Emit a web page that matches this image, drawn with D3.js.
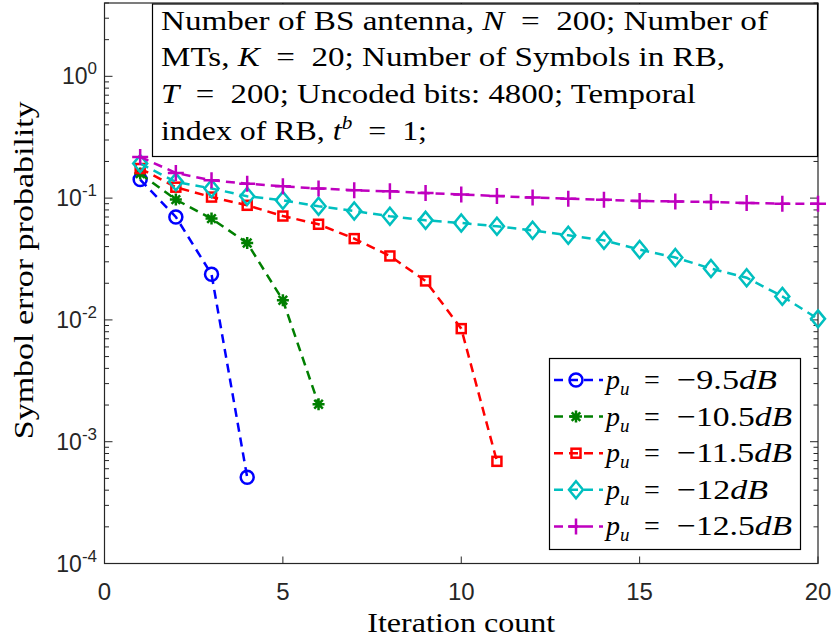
<!DOCTYPE html>
<html>
<head>
<meta charset="utf-8">
<script src="https://cdn.jsdelivr.net/npm/d3@7"></script>
<style>
  body { margin: 0; background: #fff; }
  svg { display: block; }
</style>
</head>
<body>
<div id="chart"></div>
<script>
(function() {

    // ---- data ----
    let iterations = d3.range(1, 21);

    let pu95 = [0.142, 0.070, 0.0237, 0.00051];
    let pu105 = [0.159, 0.0972, 0.0679, 0.0428, 0.0145, 0.00203];
    let pu115 = [0.175, 0.123, 0.102, 0.0873, 0.0713, 0.0610, 0.0465, 0.0335, 0.0209, 0.00848, 0.00069];
    let pu12 = [0.192, 0.136, 0.120, 0.1035, 0.0959, 0.0857, 0.0784, 0.0710, 0.0657, 0.0625,
                0.0587, 0.0544, 0.0495, 0.0450, 0.0378, 0.0325, 0.0264, 0.0222, 0.0156, 0.0102];
    let pu125 = [0.218, 0.161, 0.140, 0.1315, 0.125, 0.120, 0.116, 0.1137, 0.110, 0.107,
                 0.104, 0.101, 0.099, 0.097, 0.0947, 0.094, 0.0929, 0.0912, 0.0901, 0.090];

    let seriesLabels = ["\u22129.5", "\u221210.5", "\u221211.5", "\u221212", "\u221212.5"];
    let xTicks = [0, 5, 10, 15, 20];
    let yTickExps = [-4, -3, -2, -1, 0];

    let series = [
        { values: pu95,  label: seriesLabels[0], color: "#0000ff", marker: "circle" },
        { values: pu105, label: seriesLabels[1], color: "#007f00", marker: "star" },
        { values: pu115, label: seriesLabels[2], color: "#ff0000", marker: "square" },
        { values: pu12,  label: seriesLabels[3], color: "#00bfbf", marker: "diamond" },
        { values: pu125, label: seriesLabels[4], color: "#bf00bf", marker: "plus" }
    ];
    // width of the "−x.xdB" part of each legend entry, as measured on the picture
    let legendWidths = [100, 115, 115, 91, 115];

    let width = 832,
        height = 643;
    let plot = { left: 104.5, right: 818, top: 3, bottom: 563.5 };
    let axisColor = "#262626";
    let serif = "Liberation Serif, Times New Roman, serif";
    let sans = "Liberation Sans, Arial, sans-serif";

    let svg = d3.select("#chart")
        .append("svg")
        .attr("width", width)
        .attr("height", height);

    let x = d3.scaleLinear().domain([0, 20]).range([plot.left, plot.right]);
    let y = d3.scaleLog().domain([1e-4, 4]).range([plot.bottom, plot.top]);

    // axes box
    svg.append("rect")
        .attr("x", plot.left).attr("y", plot.top)
        .attr("width", plot.right - plot.left)
        .attr("height", plot.bottom - plot.top)
        .attr("fill", "none")
        .attr("stroke", axisColor)
        .attr("stroke-width", 1.2);

    // x ticks (bottom + top, inward)
    let tickG = svg.append("g").attr("stroke", axisColor).attr("stroke-width", 1);
    xTicks.forEach(function(t) {
        tickG.append("line").attr("x1", x(t)).attr("x2", x(t))
            .attr("y1", plot.bottom).attr("y2", plot.bottom - 7);
        tickG.append("line").attr("x1", x(t)).attr("x2", x(t))
            .attr("y1", plot.top).attr("y2", plot.top + 7);
    });

    // y ticks, major and minor, left + right
    yTickExps.forEach(function(e) {
        for (let m = 1; m <= 9; m++) {
            let v = m * Math.pow(10, e);
            if (v > 4) break;
            let len = m === 1 ? 8 : 4.5;
            tickG.append("line").attr("x1", plot.left).attr("x2", plot.left + len)
                .attr("y1", y(v)).attr("y2", y(v));
            tickG.append("line").attr("x1", plot.right).attr("x2", plot.right - len)
                .attr("y1", y(v)).attr("y2", y(v));
        }
    });

    // x tick labels
    svg.append("g").selectAll("text")
        .data(xTicks)
        .enter().append("text")
        .attr("x", d => x(d))
        .attr("y", 600)
        .attr("text-anchor", "middle")
        .attr("font-family", sans)
        .attr("font-size", 24)
        .attr("fill", axisColor)
        .text(d => d);

    // y tick labels 10^k
    let yl = svg.append("g")
        .attr("font-family", sans)
        .attr("fill", axisColor);
    yTickExps.forEach(function(e) {
        let t = yl.append("text")
            .attr("x", 97)
            .attr("y", y(Math.pow(10, e)) + 8)
            .attr("text-anchor", "end")
            .attr("font-size", 23);
        t.append("tspan").text("10");
        t.append("tspan").attr("font-size", 17).attr("dy", -10).text(e);
    });

    // axis labels
    svg.append("text")
        .attr("x", x(10))
        .attr("y", 632)
        .attr("text-anchor", "middle")
        .attr("font-family", serif)
        .attr("font-size", 28)
        .attr("textLength", 188)
        .attr("lengthAdjust", "spacingAndGlyphs")
        .attr("fill", "#000")
        .text("Iteration count");

    svg.append("text")
        .attr("transform", `translate(33, ${(plot.top + plot.bottom) / 2 - 13}) rotate(-90)`)
        .attr("text-anchor", "middle")
        .attr("font-family", serif)
        .attr("font-size", 28)
        .attr("textLength", 338)
        .attr("lengthAdjust", "spacingAndGlyphs")
        .attr("fill", "#000")
        .text("Symbol error probability");

    // marker drawing
    function drawMarker(g, type, color) {
        g.attr("fill", "none").attr("stroke", color).attr("stroke-width", 2.5);
        if (type === "circle") {
            g.append("circle").attr("r", 6.5);
        } else if (type === "square") {
            g.append("rect").attr("x", -4.5).attr("y", -4.5).attr("width", 9).attr("height", 9);
        } else if (type === "diamond") {
            g.append("path").attr("d", "M0,-8.5L7,0L0,8.5L-7,0Z");
        } else if (type === "plus") {
            g.append("path").attr("d", "M-8,0H8M0,-8V8");
        } else if (type === "star") {
            g.append("path").attr("d", "M-6,0H6M0,-6V6M-4.3,-4.3L4.3,4.3M-4.3,4.3L4.3,-4.3");
        }
    }

    let line = d3.line()
        .x((d, i) => x(iterations[i]))
        .y(d => y(d));

    series.forEach(function(s) {
        svg.append("path")
            .attr("d", line(s.values))
            .attr("fill", "none")
            .attr("stroke", s.color)
            .attr("stroke-width", 2.5)
            .attr("stroke-dasharray", "9,6");
        s.values.forEach(function(v, i) {
            let g = svg.append("g")
                .attr("transform", `translate(${x(iterations[i])}, ${y(v)})`);
            drawMarker(g, s.marker, s.color);
        });
    });

    // annotation box
    svg.append("rect")
        .attr("x", 152.5).attr("y", 4)
        .attr("width", 665).attr("height", 152.5)
        .attr("fill", "#fff")
        .attr("stroke", "#000")
        .attr("stroke-width", 1.2);

    let note = svg.append("g")
        .attr("font-family", serif)
        .attr("font-size", 27)
        .attr("fill", "#000");

    let noteLines = [
        [["Number of BS antenna, ", 0], ["N", 1], ["\u2002=\u2002200; Number of", 0]],
        [["MTs, ", 0], ["K", 1], ["\u2002=\u200220; Number of Symbols in RB,", 0]],
        [["T", 1], ["\u2002=\u2002200; Uncoded bits: 4800; Temporal", 0]],
        [["index of RB, ", 0], ["t", 1], ["b", 2], ["\u2002=\u20021;", 3]]
    ];
    let noteWidths = [607, 564, 535, 266];
    noteLines.forEach(function(parts, li) {
        let t = note.append("text")
            .attr("x", 161)
            .attr("y", 29.5 + li * 36.9)
            .attr("textLength", noteWidths[li])
            .attr("lengthAdjust", "spacingAndGlyphs");
        parts.forEach(function(p) {
            let ts = t.append("tspan").text(p[0]);
            if (p[1] === 1 || p[1] === 2) ts.attr("font-style", "italic");
            if (p[1] === 2) ts.attr("font-size", 18).attr("dy", -11);
            if (p[1] === 3) ts.attr("dy", 11);
        });
    });

    // legend
    let leg = { x: 549.5, y: 358.5, w: 251, h: 191 };
    svg.append("rect")
        .attr("x", leg.x).attr("y", leg.y)
        .attr("width", leg.w).attr("height", leg.h)
        .attr("fill", "#fff")
        .attr("stroke", "#000")
        .attr("stroke-width", 1.2);

    series.forEach(function(s, i) {
        let cy = 380 + i * 36.6;
        svg.append("line")
            .attr("x1", 554).attr("x2", 603)
            .attr("y1", cy).attr("y2", cy)
            .attr("stroke", s.color)
            .attr("stroke-width", 2.5)
            .attr("stroke-dasharray", "9,6");
        let g = svg.append("g").attr("transform", `translate(576, ${cy})`);
        drawMarker(g, s.marker, s.color);

        let lt = svg.append("g")
            .attr("font-family", serif)
            .attr("font-size", 28)
            .attr("fill", "#000");
        let t = lt.append("text").attr("x", 606).attr("y", cy + 9);
        t.append("tspan").attr("font-style", "italic").text("p");
        t.append("tspan").attr("font-style", "italic").attr("font-size", 19).attr("dy", 6).text("u");
        lt.append("text").attr("x", 644).attr("y", cy + 9).text("=");
        let v = lt.append("text")
            .attr("x", 677).attr("y", cy + 9)
            .attr("textLength", legendWidths[i])
            .attr("lengthAdjust", "spacingAndGlyphs");
        v.append("tspan").text(s.label);
        v.append("tspan").attr("font-style", "italic").text("dB");
    });

})();
</script>
</body>
</html>
